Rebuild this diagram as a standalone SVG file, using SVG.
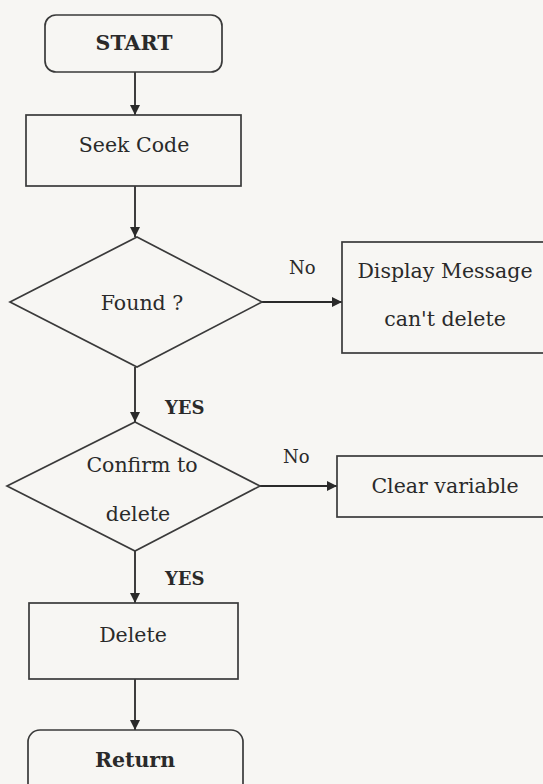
<svg xmlns="http://www.w3.org/2000/svg" width="543" height="784" viewBox="0 0 543 784">
<defs>
<marker id="ah" viewBox="0 0 10 10" refX="10" refY="5" markerWidth="10" markerHeight="10" markerUnits="userSpaceOnUse" orient="auto">
<path d="M0,0 L10,5 L0,10 z" fill="#2a2a2a"/>
</marker>
<style>
.shape{fill:none;stroke:#3a3a3a;stroke-width:1.7}
.t{font-family:"DejaVu Serif","Liberation Serif",serif;font-size:20.5px;fill:#2a2a2a;text-anchor:middle}
.b{font-weight:bold}
.lbl{font-family:"DejaVu Serif","Liberation Serif",serif;font-size:18px;fill:#2a2a2a}
.c{fill:none;stroke:#2a2a2a;stroke-width:1.8;marker-end:url(#ah)}
</style>
</defs>
<rect x="0" y="0" width="543" height="784" fill="#f7f6f3"/>
<g id="connectors">
<line class="c" x1="135" y1="72" x2="135" y2="115"/>
<line class="c" x1="135" y1="186" x2="135" y2="237"/>
<line class="c" x1="262" y1="302" x2="342" y2="302"/>
<line class="c" x1="135" y1="367" x2="135" y2="422"/>
<line class="c" x1="260" y1="486" x2="337" y2="486"/>
<line class="c" x1="135" y1="551" x2="135" y2="603"/>
<line class="c" x1="135" y1="679" x2="135" y2="730"/>
<text class="lbl" x="289" y="274">No</text>
<text class="lbl b" x="165" y="414">YES</text>
<text class="lbl" x="283" y="463">No</text>
<text class="lbl b" x="165" y="585">YES</text>
</g>
<g id="start">
<rect class="shape" x="45" y="15" width="177" height="57" rx="11"/>
<text class="t b" x="134" y="50" font-size="19">START</text>
</g>
<g id="seek">
<rect class="shape" x="26" y="115" width="215" height="71"/>
<text class="t" x="134" y="152">Seek Code</text>
</g>
<g id="found">
<polygon class="shape" points="137,237 262,302 137,367 10,302"/>
<text class="t" x="142" y="310">Found ?</text>
</g>
<g id="display">
<rect class="shape" x="342" y="242" width="230" height="111"/>
<text class="t" x="445" y="278">Display Message</text>
<text class="t" x="445" y="326">can't delete</text>
</g>
<g id="confirm">
<polygon class="shape" points="135,422 260,486 135,551 7,486"/>
<text class="t" x="142" y="472">Confirm to</text>
<text class="t" x="138" y="521">delete</text>
</g>
<g id="clear">
<rect class="shape" x="337" y="456" width="230" height="61"/>
<text class="t" x="445" y="493">Clear variable</text>
</g>
<g id="delete">
<rect class="shape" x="29" y="603" width="209" height="76"/>
<text class="t" x="133" y="642">Delete</text>
</g>
<g id="return">
<rect class="shape" x="28" y="730" width="215" height="70" rx="12"/>
<text class="t b" x="135" y="767" font-size="19">Return</text>
</g>
</svg>
